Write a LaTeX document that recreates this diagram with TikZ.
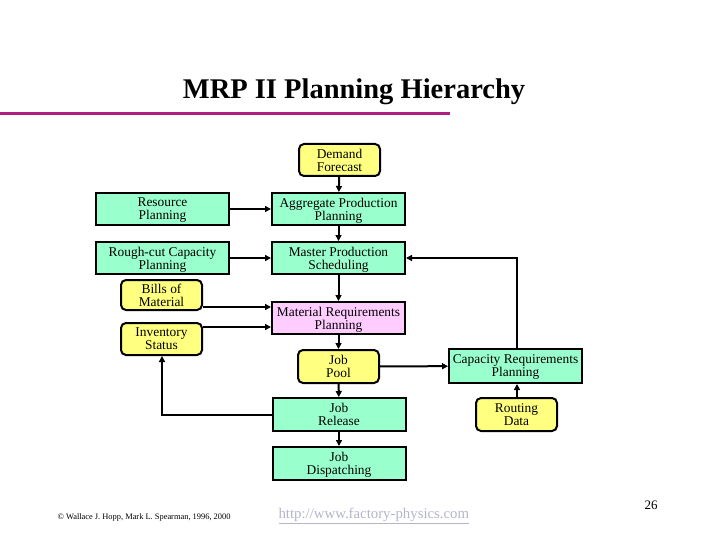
\documentclass[tikz,border=0pt]{standalone}
\usepackage{fontspec}
\setmainfont{Liberation Serif}
\usetikzlibrary{arrows.meta}
\definecolor{mint}{HTML}{99FFCC}
\definecolor{lyel}{HTML}{FFFF80}
\definecolor{lpink}{HTML}{FFCCFF}
\definecolor{magl}{HTML}{B01E82}
\definecolor{urlc}{HTML}{B4B4CC}
\tikzset{
  box/.style={draw=black, line width=2pt, inner sep=0pt, align=center,
    font=\fontsize{13.4}{13}\selectfont, text depth=0pt},
  gbox/.style={box, fill=mint, minimum width=133pt, minimum height=32pt},
  ybox/.style={box, fill=lyel, rounded corners=5pt, minimum width=81pt, minimum height=32pt},
  pbox/.style={box, fill=lpink, minimum width=133pt, minimum height=32pt},
  conn/.style={line width=2pt, -{Triangle[length=6pt,width=6pt]}},
}
\begin{document}
\begin{tikzpicture}[x=1pt,y=-1pt]
\useasboundingbox (0,0) rectangle (720,540);
\node[font=\fontsize{28.5}{30}\selectfont\bfseries] (title) at (354,92) {MRP II Planning Hierarchy};
\draw[magl, line width=3pt] (0,114) -- (450,114);

\node[ybox] (df) at (339.5,160) {Demand\\Forecast};
\node[gbox] (rp) at (162.5,209) {Resource\\Planning};
\node[gbox] (app) at (338.5,209) {Aggregate Production\\Planning};
\node[gbox] (rc) at (162.5,258) {Rough-cut Capacity\\Planning};
\node[gbox] (mps) at (338.5,258) {Master Production\\Scheduling};
\node[ybox, minimum height=30pt] (bom) at (161.5,295) {Bills of\\Material};
\node[ybox, minimum height=32pt] (inv) at (161.5,339) {Inventory\\Status};
\node[pbox] (mrp) at (338.5,318) {Material Requirements\\Planning};
\node[ybox, minimum height=33pt] (jp) at (338.5,366.5) {Job\\Pool};
\node[gbox, minimum height=33pt] (jr) at (339,414.5) {Job\\Release};
\node[gbox, minimum height=33pt] (jd) at (339,463.5) {Job\\Dispatching};
\node[gbox, minimum height=34pt] (crp) at (515.5,366) {Capacity Requirements\\Planning};
\node[ybox, minimum height=33pt] (rd) at (516.5,414.5) {Routing\\Data};

\draw[conn] (df) -- (app);
\draw[conn] (rp) -- (app);
\draw[conn] (app) -- (mps);
\draw[conn] (rc) -- (mps);
\draw[conn] (mps) -- (mrp);
\draw[conn] (bom.east |- 0,307) -- (mrp.west |- 0,307);
\draw[conn] (inv.east |- 0,327) -- (mrp.west |- 0,327);
\draw[conn] (mrp) -- (jp);
\draw[conn] (jp) -- (crp);
\draw[conn] (jp) -- (jr);
\draw[conn] (jr) -- (jd);
\draw[conn] (rd.north -| 517,0) -- (crp.south -| 517,0);
\coordinate (c1) at (517,258);
\draw[conn] (crp.north -| c1) -- (c1) -- (mps.east);
\coordinate (c2) at (162,414.5);
\draw[conn] (jr.west) -- (c2) -- (inv.south -| c2);

\node[font=\fontsize{8.4}{9}\selectfont, anchor=west] (copy) at (54,517) {© Wallace J. Hopp, Mark L. Spearman, 1996, 2000};
\node[font=\fontsize{14.8}{16}\selectfont, text=urlc, anchor=west] (url) at (275,516) {\underline{http://www.factory-physics.com}};
\node[font=\fontsize{13}{14}\selectfont] (pg) at (651,505) {26};
\end{tikzpicture}
\end{document}
